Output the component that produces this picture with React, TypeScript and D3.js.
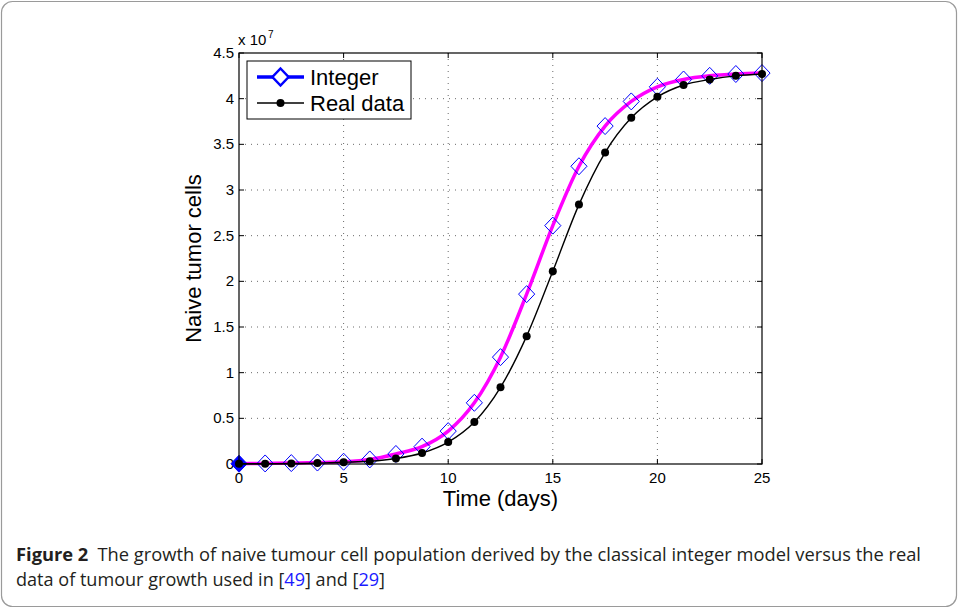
import React from 'react'
import * as d3 from 'd3'

// time points (days) where markers are drawn
const days = [0, 1.25, 2.5, 3.75, 5, 6.25, 7.5, 8.75, 10, 11.25, 12.5, 13.75, 15, 16.25, 17.5, 18.75, 20, 21.25, 22.5, 23.75, 25]
// values in units of 1e7 cells
const integerModel = [0.003, 0.006, 0.01, 0.016, 0.025, 0.05, 0.11, 0.19, 0.36, 0.67, 1.17, 1.86, 2.61, 3.26, 3.70, 3.97, 4.13, 4.21, 4.25, 4.27, 4.28]
const realData = [0.002, 0.003, 0.005, 0.01, 0.02, 0.03, 0.06, 0.12, 0.24, 0.46, 0.84, 1.40, 2.11, 2.84, 3.41, 3.79, 4.02, 4.15, 4.21, 4.25, 4.27]
const xTicks = [0, 5, 10, 15, 20, 25]
const yTicks = [0, 0.5, 1, 1.5, 2, 2.5, 3, 3.5, 4, 4.5]

const W = 958
const H = 608
const plot = { left: 239, right: 762, top: 53, bottom: 464 }
const font = 'Liberation Sans, Arial, Helvetica, sans-serif'

function App() {
    const x = d3.scaleLinear().domain([0, 25]).range([plot.left, plot.right])
    const y = d3.scaleLinear().domain([0, 4.5]).range([plot.bottom, plot.top])

    const line = d3
        .line<number>()
        .x((d, i) => x(days[i]))
        .y((d) => y(d))
        .curve(d3.curveMonotoneX)

    const diamond = (cx: number, cy: number, r: number) =>
        `M${cx},${cy - r}L${cx + r * 0.95},${cy}L${cx},${cy + r}L${cx - r * 0.95},${cy}Z`

    return (
        <svg width={W} height={H} style={{ position: 'absolute', left: 0, top: 0 }}>
            <rect x={0} y={0} width={W} height={H} fill="#fff" />
            <rect x={1.5} y={1.5} width={W - 3} height={H - 3} rx={11} fill="none" stroke="#9a9a9a" strokeWidth={1.2} />

            {/* grid */}
            <g stroke="#444" strokeWidth={0.8} strokeDasharray="1,5">
                {xTicks.slice(1, -1).map((t) => (
                    <line key={'gx' + t} x1={x(t)} x2={x(t)} y1={plot.top} y2={plot.bottom} />
                ))}
                {yTicks.slice(1, -1).map((t) => (
                    <line key={'gy' + t} x1={plot.left} x2={plot.right} y1={y(t)} y2={y(t)} />
                ))}
            </g>

            {/* ticks */}
            <g stroke="#000" strokeWidth={1}>
                {xTicks.map((t) => (
                    <g key={'tx' + t}>
                        <line x1={x(t)} x2={x(t)} y1={plot.bottom} y2={plot.bottom - 5} />
                        <line x1={x(t)} x2={x(t)} y1={plot.top} y2={plot.top + 5} />
                    </g>
                ))}
                {yTicks.map((t) => (
                    <g key={'ty' + t}>
                        <line x1={plot.left} x2={plot.left + 5} y1={y(t)} y2={y(t)} />
                        <line x1={plot.right} x2={plot.right - 5} y1={y(t)} y2={y(t)} />
                    </g>
                ))}
            </g>

            <g fontFamily={font} fontSize={15} fill="#000">
                {xTicks.map((t) => (
                    <text key={'lx' + t} x={x(t)} y={483} textAnchor="middle">{t}</text>
                ))}
                {yTicks.map((t) => (
                    <text key={'ly' + t} x={234} y={y(t) + 5} textAnchor="end">{t}</text>
                ))}
                <text x={238} y={45}>x 10</text>
                <text x={268} y={38} fontSize={10}>7</text>
            </g>

            {/* series */}
            <path d={line(integerModel) || ''} fill="none" stroke="#ff00ff" strokeWidth={3.5} />
            {integerModel.map((v, i) => (
                <path
                    key={'dm' + i}
                    d={diamond(x(days[i]), y(v), 8.5)}
                    fill={i === 0 ? '#0000ff' : 'none'}
                    stroke="#0000ff"
                    strokeWidth={1}
                />
            ))}
            <path d={line(realData) || ''} fill="none" stroke="#000" strokeWidth={1.4} />
            {realData.map((v, i) => (
                <circle key={'rd' + i} cx={x(days[i])} cy={y(v)} r={4} fill="#000" />
            ))}

            {/* axes box */}
            <rect x={plot.left} y={plot.top} width={plot.right - plot.left} height={plot.bottom - plot.top}
                fill="none" stroke="#000" strokeWidth={1.2} />

            {/* legend */}
            <rect x={247} y={61} width={164} height={58} fill="#fff" stroke="#000" strokeWidth={1} />
            <line x1={257} x2={304} y1={77} y2={77} stroke="#0000ff" strokeWidth={3.5} />
            <path d={diamond(280.5, 77, 8.5)} fill="#fff" stroke="#0000ff" strokeWidth={2.5} />
            <line x1={257} x2={304} y1={103} y2={103} stroke="#000" strokeWidth={1.4} />
            <circle cx={280.5} cy={103} r={4} fill="#000" />
            <g fontFamily={font} fontSize={22} fill="#000">
                <text x={310} y={85}>Integer</text>
                <text x={310} y={111}>Real data</text>
            </g>

            {/* axis titles */}
            <text x={(plot.left + plot.right) / 2} y={506} textAnchor="middle" fontFamily={font} fontSize={22}>Time (days)</text>
            <text transform={`translate(201,${(plot.top + plot.bottom) / 2}) rotate(-90)`} textAnchor="middle"
                fontFamily={font} fontSize={22}>Naive tumor cells</text>

            {/* caption */}
            <g fontFamily="Open Sans, sans-serif" fontSize={18} fill="#231f20">
                <text x={16} y={561} textLength={905} lengthAdjust="spacingAndGlyphs">
                    <tspan fontWeight="bold">Figure 2</tspan>
                    <tspan dx={9}>The growth of naive tumour cell population derived by the classical integer model versus the real</tspan>
                </text>
                <text x={16} y={586} textLength={369} lengthAdjust="spacingAndGlyphs">
                    <tspan>data of tumour growth used in [</tspan>
                    <tspan fill="#1a1aff">49</tspan>
                    <tspan>] and [</tspan>
                    <tspan fill="#1a1aff">29</tspan>
                    <tspan>]</tspan>
                </text>
            </g>
        </svg>
    )
}

export default App
